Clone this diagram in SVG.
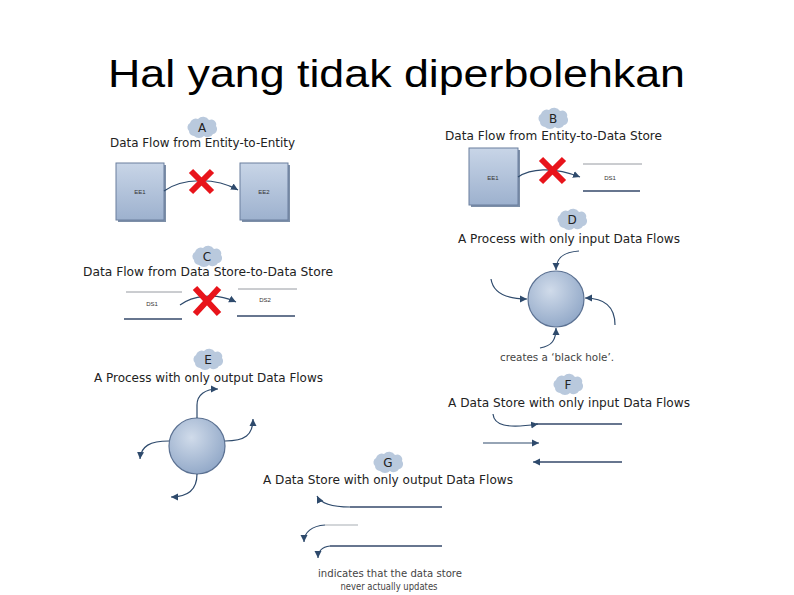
<svg xmlns="http://www.w3.org/2000/svg" width="794" height="595" viewBox="0 0 794 595">
<style>
.title{font-family:"Liberation Sans",Arial,sans-serif;font-size:38px;fill:#000}
.lbl{font-family:"DejaVu Sans","Liberation Sans",sans-serif;font-size:12px;fill:#222}
.note{font-family:"DejaVu Sans","Liberation Sans",sans-serif;font-size:10px;fill:#444}
.letter{font-family:"DejaVu Sans","Liberation Sans",sans-serif;font-size:12px;fill:#222;text-anchor:middle}
.small{font-family:"Liberation Sans",Arial,sans-serif;font-size:6px;fill:#333;text-anchor:middle}
.box{fill:url(#boxg);stroke:#6a7f9e;stroke-width:1}
.shadow{fill:#7d8fa8}
.proc{fill:url(#circg);stroke:#5b7192;stroke-width:1.2}
.flow{fill:none;stroke:#2e4a6c;stroke-width:1.2}
.flowA{fill:none;stroke:#2e4a6c;stroke-width:1.2;marker-end:url(#ah)}
.dsTop{stroke:#8a8f96;stroke-width:0.9}
.dsBot{stroke:#34496a;stroke-width:1.5}
.x{stroke:#e8141b;stroke-width:6;stroke-linecap:butt}
.cloud{fill:#b9c9dd}
</style>
<defs>
<linearGradient id="boxg" x1="0" y1="0" x2="0" y2="1">
<stop offset="0" stop-color="#c8d5e7"/>
<stop offset="1" stop-color="#9db1ce"/>
</linearGradient>
<radialGradient id="circg" cx="0.4" cy="0.35" r="0.7">
<stop offset="0" stop-color="#d0dbea"/>
<stop offset="1" stop-color="#90a7c7"/>
</radialGradient>
<marker id="ah" markerWidth="8" markerHeight="8" refX="7" refY="4" orient="auto" markerUnits="userSpaceOnUse">
<path d="M0,0.5 L7,4 L0,7.5 Z" fill="#2e4a6c"/>
</marker>
<marker id="ahs" markerWidth="8" markerHeight="8" refX="7" refY="4" orient="auto-start-reverse" markerUnits="userSpaceOnUse">
<path d="M0,0.5 L7,4 L0,7.5 Z" fill="#2e4a6c"/>
</marker>
<path id="cl" class="cloud" d="M-13,4 a5,5 0 0 1 1,-8 a6,6 0 0 1 8,-4 a7,7 0 0 1 11,1 a5,5 0 0 1 7,6 a5,5 0 0 1 -3,8 a6,6 0 0 1 -9,2 a7,7 0 0 1 -10,0 a5,5 0 0 1 -5,-5 z"/>
</defs>
<rect width="794" height="595" fill="#fff"/>
<text class="title" x="108" y="87" textLength="577" lengthAdjust="spacingAndGlyphs">Hal yang tidak diperbolehkan</text>

<g id="secA">
<use href="#cl" x="202" y="127"/>
<text class="letter" x="202" y="132">A</text>
<text class="lbl" x="202.5" y="147" text-anchor="middle" textLength="185" lengthAdjust="spacingAndGlyphs">Data Flow from Entity-to-Entity</text>
</g>
<g id="secB">
<use href="#cl" x="553" y="118"/>
<text class="letter" x="553" y="123">B</text>
<text class="lbl" x="553.5" y="140" text-anchor="middle" textLength="217" lengthAdjust="spacingAndGlyphs">Data Flow from Entity-to-Data Store</text>
</g>
<g id="secC">
<use href="#cl" x="207" y="256"/>
<text class="letter" x="207" y="261">C</text>
<text class="lbl" x="208" y="276" text-anchor="middle" textLength="250" lengthAdjust="spacingAndGlyphs">Data Flow from Data Store-to-Data Store</text>
</g>
<g id="secD">
<use href="#cl" x="572" y="219"/>
<text class="letter" x="572" y="224">D</text>
<text class="lbl" x="569" y="243" text-anchor="middle" textLength="222" lengthAdjust="spacingAndGlyphs">A Process with only input Data Flows</text>
<text class="note" x="557" y="361" text-anchor="middle" textLength="114" lengthAdjust="spacingAndGlyphs">creates a ‘black hole’.</text>
</g>
<g id="secE">
<use href="#cl" x="208" y="359"/>
<text class="letter" x="208" y="364">E</text>
<text class="lbl" x="208.5" y="382" text-anchor="middle" textLength="229" lengthAdjust="spacingAndGlyphs">A Process with only output Data Flows</text>
</g>
<g id="secF">
<use href="#cl" x="568" y="384"/>
<text class="letter" x="568" y="389">F</text>
<text class="lbl" x="569" y="407" text-anchor="middle" textLength="242" lengthAdjust="spacingAndGlyphs">A Data Store with only input Data Flows</text>
</g>
<g id="secG">
<use href="#cl" x="388" y="462"/>
<text class="letter" x="388" y="467">G</text>
<text class="lbl" x="388" y="484" text-anchor="middle" textLength="250" lengthAdjust="spacingAndGlyphs">A Data Store with only output Data Flows</text>
<text class="note" x="390" y="577" text-anchor="middle" textLength="144" lengthAdjust="spacingAndGlyphs">indicates that the data store</text>
<text class="note" x="389" y="590" text-anchor="middle" textLength="97" lengthAdjust="spacingAndGlyphs">never actually updates</text>
</g>

<g id="A_EE1"><rect class="shadow" x="118" y="165" width="48" height="57"/><rect class="box" x="116" y="163" width="48" height="57"/><text class="small" x="140" y="194">EE1</text></g>
<g id="A_EE2"><rect class="shadow" x="242" y="165" width="48" height="57"/><rect class="box" x="240" y="163" width="48" height="57"/><text class="small" x="264" y="194">EE2</text></g>
<g id="B_EE1"><rect class="shadow" x="471" y="150" width="49" height="57"/><rect class="box" x="469" y="148" width="49" height="57"/><text class="small" x="493" y="180">EE1</text></g>
<g id="B_DS1"><line class="dsTop" x1="583" y1="164" x2="642" y2="164"/><line class="dsBot" x1="583" y1="191" x2="640" y2="191"/><text class="small" x="610" y="180">DS1</text></g>
<g id="C_DS1"><line class="dsTop" x1="126" y1="292" x2="182" y2="292"/><line class="dsBot" x1="124" y1="319" x2="182" y2="319"/><text class="small" x="152" y="306">DS1</text></g>
<g id="C_DS2"><line class="dsTop" x1="238" y1="289" x2="297" y2="289"/><line class="dsBot" x1="237" y1="316" x2="295" y2="316"/><text class="small" x="265" y="302">DS2</text></g>
<g id="D_proc"><circle class="proc" cx="556" cy="299" r="28"/></g>
<g id="E_proc"><circle class="proc" cx="197" cy="446" r="28"/></g>
<g id="F_store"><line class="dsBot" x1="536" y1="424" x2="622" y2="424"/><line class="dsBot" x1="536" y1="462" x2="622" y2="462"/></g>
<g id="G_store"><line class="dsBot" x1="350" y1="507" x2="442" y2="507"/><line class="dsBot" x1="330" y1="546" x2="442" y2="546"/><line stroke="#c4c8cd" stroke-width="1.3" x1="325" y1="525" x2="358" y2="525"/></g>

<g id="connectors">
<path class="flowA" d="M164,191 C182,178 215,177 238,190"/>
<path class="flowA" d="M518,177 C530,169 552,166 580,177"/>
<path class="flowA" d="M180,305 C192,296 215,292 236,302"/>
<path class="flowA" d="M579,251 C563,252 556,258 556,270"/>
<path class="flowA" d="M491,279 C493,292 505,299 527,299"/>
<path class="flowA" d="M615,325 C615,305 603,298 585,298"/>
<path class="flowA" d="M540,348 C552,346 556,340 556,328"/>
<path class="flowA" d="M197,418 L197,405 C197,395 205,389 218,389"/>
<path class="flowA" d="M225,441 C245,441 253,435 253,419"/>
<path class="flowA" d="M169,441 C150,441 141,446 140,459"/>
<path class="flowA" d="M197,474 C197,489 188,497 171,497"/>
<path class="flowA" d="M493,414 C494,425 506,429 538,424"/>
<path class="flowA" d="M483,443 L539,443"/>
<path class="flow" style="marker-start:url(#ahs)" d="M533,462 L540,462"/>
<path class="flowA" d="M350,507 C333,507 321,504 317,496"/>
<path class="flowA" d="M325,525 C312,526 304,532 304,542"/>
<path class="flowA" d="M330,546 C322,547 318,551 318,558"/>
<path class="x" d="M191,171 L212,192 M212,171 L191,192"/>
<path class="x" d="M541,159 L564,182 M564,159 L541,182"/>
<path class="x" d="M195,288 L219,314 M219,288 L195,314"/>
</g>
</svg>
